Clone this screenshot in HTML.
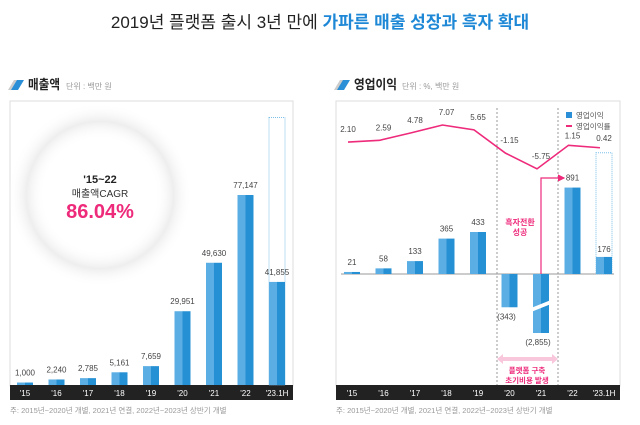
<!DOCTYPE html>
<html><head><meta charset="utf-8">
<style>
body{margin:0;width:640px;height:420px;background:#fff;overflow:hidden;font-family:"Liberation Sans","Noto Sans CJK KR",sans-serif;}
svg text{font-family:"Liberation Sans","Noto Sans CJK KR",sans-serif;}
</style></head>
<body>
<svg width="640" height="420" xmlns="http://www.w3.org/2000/svg" id="root">
<defs>
<radialGradient id="dots" cx="50%" cy="50%" r="50%">
<stop offset="0.6" stop-color="#fff" stop-opacity="0"/>
<stop offset="0.8" stop-color="#eeeeee" stop-opacity="1"/>
<stop offset="1" stop-color="#fff" stop-opacity="0"/>
</radialGradient>
<marker id="arr" markerWidth="6" markerHeight="6" refX="5" refY="3" orient="auto"><path d="M0,0 L6,3 L0,6 z" fill="#ee2a7b"/></marker>
</defs>
<text x="320" y="28" text-anchor="middle" font-size="17" fill="#222">2019년 플랫폼 출시 3년 만에 <tspan fill="#1e88d6" font-weight="bold">가파른 매출 성장과 흑자 확대</tspan></text>

<g>
<polygon points="8,90 14,80 22,80 16,90" fill="#ccc"/><polygon points="11,90 17,80 24,80 18,90" fill="#2a8fd6"/>
<text x="28" y="89" font-size="13" font-weight="bold" fill="#222" textLength="32" lengthAdjust="spacingAndGlyphs">매출액</text>
<text x="66" y="89" font-size="8" fill="#999">단위 : 백만 원</text>
<rect x="10" y="101" width="283" height="285" fill="#fff" stroke="#ddd"/>
<circle cx="100" cy="195" r="92" fill="url(#dots)"/>
<text x="100" y="183" text-anchor="middle" font-size="11" font-weight="bold" fill="#222">'15~22</text>
<text x="100" y="197" text-anchor="middle" font-size="10" fill="#333">매출액CAGR</text>
<text x="100" y="218" text-anchor="middle" font-size="20" font-weight="bold" fill="#ee2a7b">86.04%</text>
<rect x="10" y="385" width="283" height="15" fill="#222"/>
<g id="lbars"></g>
</g>

<g>
<polygon points="334,90 340,80 348,80 342,90" fill="#ccc"/><polygon points="337,90 343,80 350,80 344,90" fill="#2a8fd6"/>
<text x="354" y="89" font-size="13" font-weight="bold" fill="#222" textLength="43" lengthAdjust="spacingAndGlyphs">영업이익</text>
<text x="402" y="89" font-size="8" fill="#999">단위 : %, 백만 원</text>
<rect x="336" y="101" width="284" height="285" fill="#fff" stroke="#ddd"/>
<line x1="497" y1="108" x2="497" y2="385" stroke="#999" stroke-dasharray="2,2"/>
<line x1="558" y1="108" x2="558" y2="385" stroke="#999" stroke-dasharray="2,2"/>
<line x1="341" y1="274" x2="614" y2="274" stroke="#999"/>
<rect x="336" y="385" width="284" height="15" fill="#222"/>
<g>
<rect x="566" y="112" width="6" height="6" fill="#2a8fd6"/><text x="576" y="118" font-size="7.5" fill="#555">영업이익</text>
<line x1="566" y1="126" x2="572" y2="126" stroke="#ee2a7b" stroke-width="2"/><text x="576" y="129" font-size="7.5" fill="#555">영업이익률</text>
</g>
<g id="rbars"></g>
<path id="margin-line" fill="none" stroke="#ee2a7b" stroke-width="1.6"/>
<g id="mlabels"></g>
<polyline points="541,274 541,178 564,178" fill="none" stroke="#ee2a7b" stroke-width="1.2" marker-end="url(#arr)"/>
<text x="520" y="225" text-anchor="middle" font-size="8" font-weight="bold" fill="#ee2a7b">흑자전환</text>
<text x="520" y="235" text-anchor="middle" font-size="8" font-weight="bold" fill="#ee2a7b">성공</text>
<g>
<polygon points="497,359 503,354 503,357 552,357 552,354 558,359 552,364 552,361 503,361 503,364" fill="#f9c7dc"/>
</g>
<text x="527" y="373" text-anchor="middle" font-size="7.5" font-weight="bold" fill="#ee2a7b">플랫폼 구축</text>
<text x="527" y="383" text-anchor="middle" font-size="7.5" font-weight="bold" fill="#ee2a7b">초기비용 발생</text>
</g>
<text x="10" y="413" font-size="7.5" fill="#999">주: 2015년~2020년 개별, 2021년 연결, 2022년~2023년 상반기 개별</text>
<text x="336" y="413" font-size="7.5" fill="#999">주: 2015년~2020년 개별, 2021년 연결, 2022년~2023년 상반기 개별</text>
</svg>
<script>
const categories=["'15","'16","'17","'18","'19","'20","'21","'22","'23.1H"];
const revenue=[1000,2240,2785,5161,7659,29951,49630,77147,41855];
const revenueLabels=["1,000","2,240","2,785","5,161","7,659","29,951","49,630","77,147","41,855"];
const revenueProjected=108600;
const opProfit=[21,58,133,365,433,-343,-2855,891,176];
const opLabels=["21","58","133","365","433","(343)","(2,855)","891","176"];
const opProjected=1250;
const margin=[2.10,2.59,4.78,7.07,5.65,-1.15,-5.75,1.15,0.42];
const marginLabels=["2.10","2.59","4.78","7.07","5.65","-1.15","-5.75","1.15","0.42"];

const NS="http://www.w3.org/2000/svg";
function mk(tag,attrs,parent){const e=document.createElementNS(NS,tag);for(const k in attrs)e.setAttribute(k,attrs[k]);parent.appendChild(e);return e;}
const lx=i=>25+i*31.5, ly=v=>385-v*190/77147;
const rx=i=>352+i*31.5, ry=v=>274-v*0.097, my=v=>149.2-3.42*v;
const lg=document.getElementById('lbars'), rg=document.getElementById('rbars');
function bar(g,cx,y0,y1,name){
  const t=Math.min(y0,y1),h=Math.abs(y1-y0);
  const r=mk('rect',{x:cx-8,y:t,width:8,height:h,fill:'#5aaee3'},g);
  
  
  mk('rect',{x:cx,y:t,width:8,height:h,fill:'#2590d3'},g);
}
categories.forEach((c,i)=>{
  const n=categories.length-1;
  if(i===n){const p=mk('rect',{x:lx(i)-8,y:ly(revenueProjected),width:16,height:ly(0)-ly(revenueProjected),fill:'#fff',stroke:'#7cc0ea','stroke-dasharray':'1,1'},lg);
    }
  bar(lg,lx(i),ly(0),ly(revenue[i]),'revenue-bar');
  const t=mk('text',{x:lx(i),y:ly(revenue[i])-7,'text-anchor':'middle','font-size':'8',fill:'#444'},lg);t.textContent=revenueLabels[i];
  
  const a=mk('text',{x:lx(i),y:396,'text-anchor':'middle','font-size':'8',fill:'#fff'},lg);a.textContent=c;
  
  if(i===n){const p=mk('rect',{x:rx(i)-8,y:ry(opProjected),width:16,height:ry(0)-ry(opProjected),fill:'#fff',stroke:'#7cc0ea','stroke-dasharray':'1,1'},rg);
    }
  let v=opProfit[i], yb=ry(v);
  if(v<-1000) yb=333;
  bar(rg,rx(i),ry(0),yb,'op-profit-bar');
  if(v<-1000){mk('polygon',{points:`${rx(i)-10},${yb-25} ${rx(i)+10},${yb-33} ${rx(i)+10},${yb-29} ${rx(i)-10},${yb-21}`,fill:'#fff'},rg);}
  const ty = v>=0 ? (i===n? ry(v)-5 : ry(v)-7) : yb+12;
  const tt=mk('text',{x:rx(i)+(v<0?-3:0),y:ty,'text-anchor':'middle','font-size':'8',fill:'#444'},rg);tt.textContent=opLabels[i];
  
  const b=mk('text',{x:rx(i),y:396,'text-anchor':'middle','font-size':'8',fill:'#fff'},rg);b.textContent=c;
  
  const ml=mk('text',{x:rx(i)-(i===0?4:0),y:my(margin[i])-(i>=7?7:10),'text-anchor':'middle','font-size':'8',fill:'#444'},document.getElementById('mlabels'));ml.textContent=marginLabels[i];
  
});
const line=document.getElementById('margin-line');
line.setAttribute('d',margin.map((v,i)=>(i?'L':'M')+(rx(i)-4)+','+my(v)).join(' '));


</script>
</body></html>
